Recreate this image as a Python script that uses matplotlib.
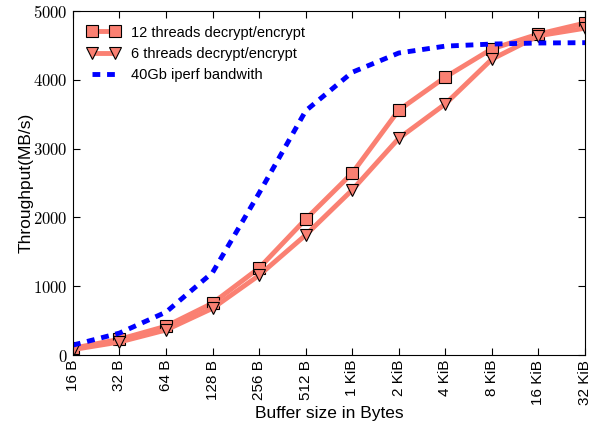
import numpy as np
import matplotlib
matplotlib.use('Agg')
import matplotlib.pyplot as plt
from matplotlib.ticker import FuncFormatter

plt.rcParams['font.family'] = ['Liberation Sans', 'DejaVu Sans']
plt.rcParams['mathtext.fontset'] = 'cm'

sizes = ['16 B', '32 B', '64 B', '128 B', '256 B', '512 B',
         '1 KiB', '2 KiB', '4 KiB', '8 KiB', '16 KiB', '32 KiB']
threads12 = [100, 230, 420, 755, 1265, 1975, 2645, 3560, 4040, 4450, 4665, 4825]
threads6 = [80, 190, 365, 680, 1160, 1745, 2400, 3150, 3650, 4300, 4640, 4750]
iperf = [145, 320, 625, 1200, 2355, 3550, 4110, 4390, 4490, 4520, 4535, 4540]

x = np.arange(len(sizes))

fig = plt.figure(figsize=(5.93, 4.32), dpi=100)
ax = fig.add_axes([0.123, 0.178, 0.8635, 0.7965])

salmon = '#FA8072'
ax.plot(x, threads12, color=salmon, lw=3.5, marker='s', ms=8,
        mfc=salmon, mec='black', mew=0.8, label='12 threads decrypt/encrypt')
ax.plot(x, threads6, color=salmon, lw=3.5, marker='v', ms=9,
        mfc=salmon, mec='black', mew=0.8, label='6 threads decrypt/encrypt')
ax.plot(x, iperf, color='blue', lw=3.5, ls=(0, (1.6, 1.4)),
        label='40Gb iperf bandwith')

ax.set_xlim(0, len(sizes) - 1)
ax.set_ylim(0, 5000)
ax.set_xticks(x)
ax.set_xticklabels(sizes, rotation=90, fontsize=11)
ax.set_yticks([0, 1000, 2000, 3000, 4000, 5000])
ax.yaxis.set_major_formatter(FuncFormatter(lambda v, p: r'$%d$' % v))
ax.tick_params(axis='y', labelsize=12)
ax.tick_params(direction='in', top=True, right=True, length=5, width=0.8)

ax.set_xlabel('Buffer size in Bytes', fontsize=12.5, labelpad=1)
ax.set_ylabel('Throughput(MB/s)', fontsize=12.5, labelpad=0)

ax.legend(loc='upper left', frameon=False, numpoints=2, fontsize=10.5,
          handlelength=2.2, borderaxespad=0.6)

fig.savefig('out.png', dpi=100)
